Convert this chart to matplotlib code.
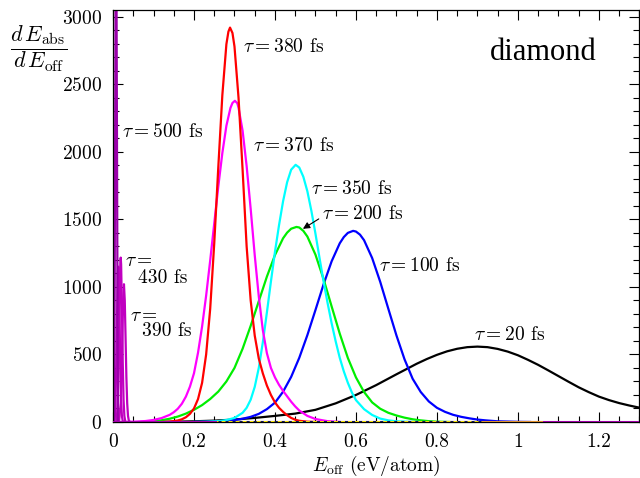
import matplotlib
matplotlib.use("Agg")
import matplotlib.pyplot as plt

plt.rcParams['font.family'] = ['cmr10', 'DejaVu Serif']
plt.rcParams['mathtext.fontset'] = 'cm'
plt.rcParams['axes.formatter.use_mathtext'] = True

# tau = 380 fs (red)
x380 = [0.12, 0.14, 0.16, 0.17, 0.18, 0.19, 0.20, 0.21, 0.22, 0.23, 0.24, 0.25, 0.26, 0.27, 0.28, 0.285,
        0.289, 0.295, 0.30, 0.31, 0.32, 0.33, 0.34, 0.35, 0.36, 0.37, 0.38, 0.39, 0.40, 0.41, 0.42, 0.43,
        0.44, 0.45, 0.46, 0.48, 0.50]
y380 = [0, 3, 11, 20, 35, 60, 100, 170, 290, 500, 838, 1323, 1886, 2420, 2797, 2890,
        2920, 2880, 2780, 2400, 1870, 1300, 900, 640, 470, 360, 270, 200, 145, 105, 75, 50,
        30, 17, 9, 2, 0]

# tau = 370 fs (magenta)
x370 = [0.02, 0.05, 0.08, 0.10, 0.12, 0.14, 0.15, 0.16, 0.17, 0.18, 0.19, 0.20, 0.21, 0.22, 0.23, 0.24,
        0.25, 0.26, 0.27, 0.28, 0.29, 0.295, 0.301, 0.307, 0.31, 0.32, 0.33, 0.34, 0.35, 0.36, 0.37, 0.38,
        0.39, 0.40, 0.41, 0.42, 0.43, 0.44, 0.45, 0.46, 0.48, 0.50, 0.53, 0.56]
y370 = [0, 2, 7, 15, 29, 53, 72, 98, 135, 188, 262, 361, 514, 707, 936, 1196,
        1470, 1743, 1991, 2193, 2325, 2362, 2378, 2360, 2326, 2157, 1895, 1577, 1235, 930, 680, 510,
        400, 330, 275, 230, 190, 150, 115, 85, 45, 22, 6, 0]

# tau = 350 fs (cyan)
x350 = [0.20, 0.23, 0.26, 0.28, 0.30, 0.32, 0.33, 0.34, 0.35, 0.36, 0.37, 0.38, 0.39, 0.40, 0.41, 0.42,
        0.43, 0.44, 0.451, 0.46, 0.47, 0.48, 0.49, 0.50, 0.51, 0.52, 0.53, 0.54, 0.55, 0.56, 0.57, 0.58,
        0.59, 0.60, 0.62, 0.64, 0.66, 0.68, 0.70, 0.73, 0.76]
y350 = [0, 2, 6, 14, 30, 68, 105, 165, 260, 400, 590, 810, 1040, 1260, 1457, 1634,
        1775, 1868, 1904, 1884, 1816, 1708, 1562, 1394, 1215, 1040, 880, 730, 596, 475, 375, 290,
        218, 162, 95, 52, 25, 12, 5, 1, 0]

# tau = 200 fs (green)
x200 = [0.07, 0.10, 0.12, 0.14, 0.16, 0.18, 0.20, 0.22, 0.24, 0.26, 0.28, 0.30, 0.32, 0.34, 0.36, 0.38,
        0.40, 0.42, 0.43, 0.44, 0.453, 0.46, 0.47, 0.48, 0.50, 0.52, 0.54, 0.56, 0.58, 0.60, 0.62, 0.64,
        0.66, 0.68, 0.70, 0.72, 0.74, 0.76, 0.78, 0.80, 0.83]
y200 = [0, 5, 13, 24, 40, 62, 90, 125, 170, 225, 300, 400, 542, 712, 894, 1076,
        1236, 1360, 1402, 1431, 1444, 1440, 1415, 1373, 1239, 1058, 855, 654, 474, 330, 222, 145,
        98, 68, 48, 32, 20, 12, 6, 2, 0]

# tau = 100 fs (blue)
x100 = [0.20, 0.24, 0.27, 0.30, 0.32, 0.34, 0.36, 0.38, 0.40, 0.42, 0.44, 0.46, 0.48, 0.50, 0.52, 0.54,
        0.56, 0.57, 0.58, 0.593, 0.60, 0.61, 0.62, 0.64, 0.66, 0.68, 0.70, 0.72, 0.74, 0.76, 0.78, 0.80,
        0.82, 0.84, 0.86, 0.88, 0.90, 0.92, 0.95, 1.00, 1.03]
y100 = [0, 2, 6, 14, 24, 38, 60, 95, 143, 224, 334, 475, 643, 829, 1019, 1190,
        1323, 1369, 1400, 1415, 1410, 1387, 1346, 1214, 1037, 838, 641, 464, 320, 222, 152, 105,
        75, 53, 38, 27, 18, 12, 5, 1, 0]

# tau = 20 fs (black)
x20 = [0.10, 0.15, 0.20, 0.25, 0.30, 0.35, 0.40, 0.45, 0.50, 0.55, 0.60, 0.65, 0.70, 0.75, 0.775, 0.80,
       0.825, 0.85, 0.875, 0.90, 0.925, 0.95, 0.975, 1.00, 1.025, 1.05, 1.075, 1.10, 1.125, 1.15, 1.175,
       1.20, 1.225, 1.25, 1.275, 1.30]
y20 = [0, 2, 5, 10, 18, 30, 45, 62, 90, 138, 200, 273, 353, 431, 466, 497,
       523, 542, 554, 558, 554, 541, 521, 494, 460, 423, 382, 340, 298, 257, 221,
       188, 162, 140, 122, 106]

# tau = 500 fs spike and the 430 / 390 fs spikes (purple)
x500 = [0.003, 0.0075, 0.012]
y500 = [0, 4200, 0]
xs1 = [0.004, 0.006, 0.008, 0.010, 0.012, 0.013, 0.014, 0.016, 0.018, 0.020, 0.022, 0.024, 0.026]
ys1 = [0, 155, 414, 797, 1104, 1150, 1104, 797, 414, 155, 42, 8, 0]
xs2 = [0.009, 0.012, 0.014, 0.016, 0.018, 0.019, 0.020, 0.022, 0.024, 0.026, 0.028, 0.030, 0.032]
ys2 = [0, 165, 440, 843, 1168, 1217, 1168, 843, 440, 165, 45, 8, 0]
xs3 = [0.013, 0.015, 0.019, 0.021, 0.023, 0.025, 0.027, 0.029, 0.031, 0.033, 0.035, 0.037, 0.039, 0.042]
ys3 = [0, 11, 138, 331, 619, 900, 1020, 900, 619, 331, 138, 45, 11, 0]

# curves lying on zero
xzero_purple = [0.0, 1.3]
xzero_orange = [0.26, 1.058]
xzero_dotted = [0.26, 0.91]
yzero2 = [0, 0]

fig = plt.figure(figsize=(6.4, 4.78), dpi=100)
ax = fig.add_axes([0.1766, 0.1172, 0.8224, 0.8618])

lw = 1.6
ax.plot(x20, y20, color='black', lw=lw)
ax.plot(x100, y100, color='#0000ff', lw=lw)
ax.plot(x200, y200, color='#00ee00', lw=lw)
ax.plot(x350, y350, color='#00ffff', lw=lw)
ax.plot(x370, y370, color='#ff00ff', lw=lw)
ax.plot(x380, y380, color='#ff0000', lw=lw)
ax.plot(xs3, ys3, color='#c000c0', lw=lw)
ax.plot(xs2, ys2, color='#c000c0', lw=lw)
ax.plot(xs1, ys1, color='#c000c0', lw=lw)
ax.plot(x500, y500, color='#9a00aa', lw=lw)

ax.plot(xzero_purple, yzero2, color='#a000a8', lw=2.2, zorder=5)
ax.plot(xzero_orange, yzero2, color='#e0902a', lw=2.2, zorder=6)
ax.plot(xzero_dotted, yzero2, color='#f0e000', lw=1.4, zorder=7)
ax.plot(xzero_dotted, yzero2, color='#101060', lw=2.2, ls=(0, (1, 1.3)), zorder=8)

ax.set_xlim(0, 1.3)
ax.set_ylim(0, 3050)
ax.set_xticks([0, 0.2, 0.4, 0.6, 0.8, 1.0, 1.2])
ax.set_xticklabels(['0', '0.2', '0.4', '0.6', '0.8', '1', '1.2'])
ax.set_xticks([i * 0.05 for i in range(27)], minor=True)
ax.set_yticks([0, 500, 1000, 1500, 2000, 2500, 3000])
ax.set_yticks(list(range(0, 3001, 100)), minor=True)
ax.tick_params(which='both', direction='in', top=True, right=True, labelsize=14)
ax.tick_params(which='major', length=7, width=0.8, pad=8)
ax.tick_params(which='minor', length=4, width=0.8)
for s in ax.spines.values():
    s.set_linewidth(0.9)

ax.set_xlabel(r'$E_{\rm off}$ (eV/atom)', fontsize=14, labelpad=2)
fig.text(0.061, 0.899, r'$\dfrac{d\,E_{\rm abs}}{d\,E_{\rm off}}$', fontsize=16,
         ha='center', va='center')

fs = 14
ax.text(0.321, 2778, r'$\tau = 380$ fs', fontsize=fs, va='center')
ax.text(0.346, 2044, r'$\tau = 370$ fs', fontsize=fs, va='center')
ax.text(0.488, 1726, r'$\tau = 350$ fs', fontsize=fs, va='center')
ax.annotate(r'$\tau = 200$ fs', xy=(0.469, 1430), xytext=(0.515, 1543), fontsize=fs, va='center',
            arrowprops=dict(arrowstyle='-|>', color='black', lw=0.8, shrinkA=0, shrinkB=0,
                            mutation_scale=10, relpos=(0, 0.3)))
ax.text(0.657, 1156, r'$\tau = 100$ fs', fontsize=fs, va='center')
ax.text(0.891, 644, r'$\tau = 20$ fs', fontsize=fs, va='center')
ax.text(0.022, 2148, r'$\tau = 500$ fs', fontsize=fs, va='center')
ax.text(0.030, 1193, r'$\tau =$', fontsize=fs, va='center')
ax.text(0.062, 1067, '430 fs', fontsize=fs, va='center')
ax.text(0.042, 785, r'$\tau =$', fontsize=fs, va='center')
ax.text(0.071, 674, '390 fs', fontsize=fs, va='center')
ax.text(1.195, 2733, 'diamond', fontsize=22, ha='right', va='center', family='Liberation Serif')

fig.savefig('out.png', dpi=100)
